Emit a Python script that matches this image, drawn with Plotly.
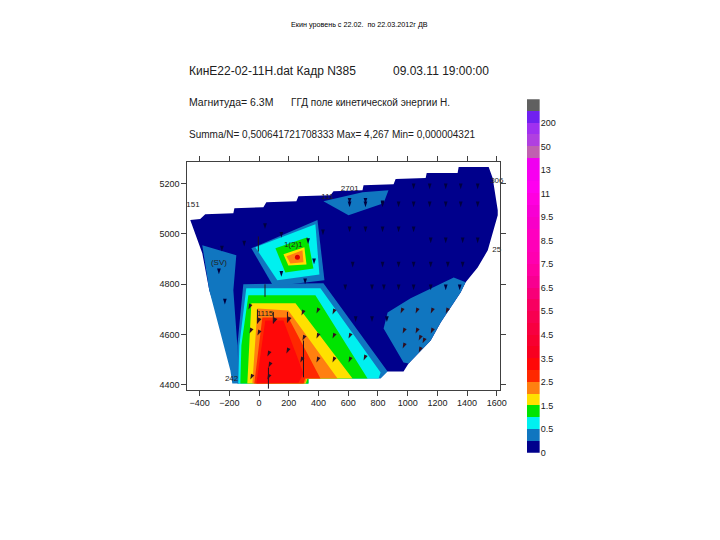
import plotly.graph_objects as go

FONT = "Liberation Sans, Arial"

# colour bar
band_colors = ["#00008c", "#1076c0", "#00f0f0", "#00e400", "#ffe000", "#ff8010", "#ff2800", "#ff0808",
               "#f80020", "#f80030", "#f80040", "#f80050", "#f80060", "#f80078", "#f80090", "#ff00a0",
               "#ff00b0", "#ff00b8", "#ff00c0", "#f800c8", "#f800d4", "#ff00e0", "#ff00f0", "#f800f0",
               "#f000f0", "#c060b0", "#b040e0", "#a030f0", "#7020f0", "#606060"]
band_tick_positions = [0, 2, 4, 6, 8, 10, 12, 14, 16, 18, 20, 22, 24, 26, 28]
band_tick_labels = ["0", "0.5", "1.5", "2.5", "3.5", "4.5", "5.5", "6.5", "7.5", "8.5", "9.5", "11", "13", "50", "200"]

# axes
x_ticks = [-400, -200, 0, 200, 400, 600, 800, 1000, 1200, 1400, 1600]
y_ticks = [4400, 4600, 4800, 5000, 5200]

# contour regions, outer to inner (x, y in model coordinates)
navy_x = [-463, -396, -362, -173, -166, 29, 49, 251, 265, 481, 501, 696, 703, 905, 919, 1121, 1128, 1336, 1343, 1545,
          1572, 1606, 1606, 1539, 1471, 1390, 1357, 1222, 1155, 1006, 972, 838, -160, -247, -335, -382]
navy_y = [5055, 5059, 5078, 5082, 5102, 5106, 5126, 5130, 5150, 5154, 5170, 5174, 5194, 5198, 5218, 5222, 5242, 5242, 5266, 5266,
          5222, 5094, 5074, 4935, 4867, 4808, 4768, 4648, 4576, 4485, 4453, 4453, 4453, 4616, 4776, 4923]
left_blue_x = [-382, -153, -173, -146, -133, -180, -193, -335]
left_blue_y = [4955, 4915, 4776, 4557, 4405, 4405, 4457, 4776]
top_blue_x = [433, 696, 871, 838, 602]
top_blue_y = [5130, 5166, 5174, 5122, 5074]
right_blue_x = [1310, 1390, 1357, 1222, 1155, 1006, 972, 838, 865, 1020]
right_blue_y = [4827, 4808, 4768, 4648, 4576, 4485, 4489, 4624, 4688, 4744]

low_blue_x = [-106, 433, 865, 818, 332, 332, -146, -146]
low_blue_y = [4800, 4804, 4453, 4425, 4425, 4405, 4405, 4557]
low_cyan_x = [-86, 413, 818, 804, 332, 332, -140, -133]
low_cyan_y = [4784, 4784, 4449, 4425, 4425, 4405, 4405, 4557]
low_green_x = [-72, 379, 730, 332, 332, -126, -119]
low_green_y = [4756, 4756, 4425, 4425, 4405, 4405, 4557]
low_yellow_x = [-52, 245, 629, 325, 315, -79]
low_yellow_y = [4724, 4724, 4425, 4425, 4405, 4405]
low_orange_x = [-11, 197, 528, 320, 310, -45]
low_orange_y = [4704, 4696, 4425, 4425, 4405, 4405]
low_redorange_x = [22, 197, 413, 310, 300, -32]
low_redorange_y = [4668, 4668, 4425, 4425, 4405, 4405]
low_red_x = [42, 164, 299, 265, -18]
low_red_y = [4656, 4656, 4445, 4408, 4405]

isl_blue_x = [-52, 393, 440, 96]
isl_blue_y = [4943, 5055, 4816, 4792]
isl_cyan_x = [-25, 379, 406, 123]
isl_cyan_y = [4947, 5039, 4839, 4816]
isl_green_x = [110, 326, 366, 177]
isl_green_y = [4943, 4987, 4863, 4847]
isl_yellow_x = [164, 305, 319, 197]
isl_yellow_y = [4919, 4947, 4879, 4875]
isl_orange_x = [184, 292, 299, 211]
isl_orange_y = [4911, 4935, 4887, 4883]

regions = [
    (navy_x, navy_y, "#00008c"), (left_blue_x, left_blue_y, "#1076c0"), (top_blue_x, top_blue_y, "#1076c0"),
    (right_blue_x, right_blue_y, "#1076c0"),
    (low_blue_x, low_blue_y, "#1076c0"), (low_cyan_x, low_cyan_y, "#00f0f0"), (low_green_x, low_green_y, "#00e400"),
    (low_yellow_x, low_yellow_y, "#ffe000"), (low_orange_x, low_orange_y, "#ff8010"),
    (low_redorange_x, low_redorange_y, "#ff2800"), (low_red_x, low_red_y, "#ff0808"),
    (isl_blue_x, isl_blue_y, "#1076c0"), (isl_cyan_x, isl_cyan_y, "#00f0f0"), (isl_green_x, isl_green_y, "#00e400"),
    (isl_yellow_x, isl_yellow_y, "#ffe000"), (isl_orange_x, isl_orange_y, "#ff8010"),
]

# velocity arrows
arrow_x = [609, 716, 831, 1040, 1148, 1256, 1357, 1471,
           609, 716, 831, 939, 1040, 1148, 1256, 1357, 1471,
           609, 716, 831, 939, 1040, 1155, 1256, 1370, 1471,
           630, 831, 939, 1040, 1155, 1270, 1370,
           580, 760, 840, 939, 1040, 1155, 1256, 1350,
           -250, -270, -230, -100, 40, 150, 330, 370, 430, 150, 310,
           650, 760, 860]
arrow_y = [5120, 5120, 5110, 5178, 5178, 5178, 5178, 5178,
           5106, 5106, 5106, 5106, 5106, 5106, 5106, 5106, 5106,
           5007, 5007, 5007, 5007, 5007, 4963, 4963, 4963, 4963,
           4867, 4867, 4867, 4867, 4867, 4867, 4867,
           4776, 4776, 4776, 4776, 4776, 4776, 4776, 4776,
           4930, 4840, 4720, 4950, 5020, 4985, 4960, 4880, 4995, 4830, 4800,
           4650, 4650, 4650]
arrow_rainbow_x = [-72, -65, -59, -11, -11, 56, 63, 56, 96, 191, 184, 292, 285, 278, 386, 386, 386, 494, 494, 494, 602, 602, 703,
                   966, 952, 1053, 1155, 1256, 1053, 1155, 966, 1074, 1100, 1074]
arrow_rainbow_y = [4700, 4604, 4421, 4644, 4596, 4513, 4469, 4421, 4644, 4648, 4525, 4576, 4676, 4489, 4684, 4584, 4489, 4680, 4584, 4489, 4584, 4489, 4497,
                   4604, 4684, 4684, 4684, 4684, 4604, 4604, 4545, 4576, 4565, 4529]
shaft_x = [-11, -11, None, 96, 96, None, 191, 191, None, 299, 299, None, 63, 63, None, 40, 40, None, -5, -5]
shaft_y = [4700, 4644, None, 4690, 4644, None, 4690, 4648, None, 4576, 4430, None, 4469, 4385, None, 4800, 4750, None, 4990, 4930]

# small station labels
label_x = [1550, 1600, 1640, 1600, 610, 230, 40, -445, -270, 460, -185]
label_y = [5300, 5210, 5105, 4935, 5180, 4955, 4680, 5115, 4885, 5145, 4425]
label_text = ["1309", "306", "203", "25", "2701", "1(2)1", "1115", "151", "(SV)", "111", "242"]

W, H, PAGE_MARGIN, FIT = 704, 524, 8, 0.989


def fx(px):
    return (px / FIT - PAGE_MARGIN) / W


def fy(py):
    return 1 - (py / FIT - PAGE_MARGIN) / H


fig = go.Figure()
for xs, ys, colour in regions:
    fig.add_trace(go.Scatter(x=xs, y=ys, mode="lines", fill="toself", fillcolor=colour,
                             line=dict(width=0, color=colour), hoverinfo="skip", showlegend=False))
fig.add_trace(go.Scatter(x=shaft_x, y=shaft_y, mode="lines", line=dict(color="#201020", width=1), showlegend=False))
fig.add_trace(go.Scatter(x=arrow_x, y=arrow_y, mode="markers", showlegend=False,
                         marker=dict(symbol="arrow", size=6, angle=180, color="#000040", line=dict(width=0))))
fig.add_trace(go.Scatter(x=arrow_rainbow_x, y=arrow_rainbow_y, mode="markers", showlegend=False,
                         marker=dict(symbol="arrow", size=6, angle=205, color="#301020", line=dict(width=0))))
fig.add_trace(go.Scatter(x=[258], y=[4907], mode="markers", showlegend=False,
                         marker=dict(symbol="circle", size=5, color="#e00000")))
fig.add_trace(go.Scatter(x=label_x, y=label_y, mode="text", text=label_text, showlegend=False, cliponaxis=False,
                         textfont=dict(family=FONT, size=8, color="#202020")))

fig.add_trace(go.Bar(x=["c"] * len(band_colors), y=[1] * len(band_colors), marker=dict(color=band_colors, line=dict(width=0)),
                     xaxis="x2", yaxis="y2", showlegend=False))

line_c = "#404040"
texts = [
    ("Екин уровень с 22.02.  по 22.03.2012г ДВ", 289, 24, 7.2, "#000000"),
    ("КинЕ22-02-11Н.dat Кадр N385", 187, 71, 12, "#202020"),
    ("09.03.11 19:00:00", 391, 71, 12, "#202020"),
    ("Магнитуда= 6.3М", 187, 102, 10.5, "#202020"),
    ("ГГД поле кинетической энергии Н.", 289, 102, 10, "#202020"),
    ("Summa/N= 0,500641721708333 Max= 4,267 Min= 0,000004321", 187, 134, 10, "#202020"),
]
annotations = [dict(text=t, x=fx(px), y=fy(py), xref="paper", yref="paper", xanchor="left", yanchor="middle",
                    showarrow=False, font=dict(family=FONT, size=s, color=c))
               for t, px, py, s, c in texts]

fig.update_layout(
    width=W, height=H, margin=dict(l=0, r=0, t=0, b=0), autosize=False,
    paper_bgcolor="white", plot_bgcolor="white", barmode="stack", bargap=0, showlegend=False,
    font=dict(family=FONT, size=9, color="#202020"),
    annotations=annotations,
    xaxis=dict(domain=[fx(187), fx(499.5)], range=[-483, 1622], tickvals=x_ticks, ticks="outside", ticklen=5,
               showgrid=False, zeroline=False, showline=True, linecolor=line_c, tickcolor=line_c, mirror="ticks"),
    yaxis=dict(domain=[fy(389), fy(161.7)], range=[4381, 5286], tickvals=y_ticks, ticks="outside", ticklen=5,
               showgrid=False, zeroline=False, showline=True, linecolor=line_c, tickcolor=line_c, mirror="ticks"),
    xaxis2=dict(domain=[fx(526), fx(539)], anchor="y2", showticklabels=False, ticks="", showgrid=False,
                zeroline=False, showline=False),
    yaxis2=dict(domain=[fy(452), fy(99)], anchor="x2", side="right", range=[0, 30], tickvals=band_tick_positions,
                ticktext=band_tick_labels, ticks="", showgrid=False, zeroline=False, showline=False),
)
fig.write_html("out.html", config={"displayModeBar": False})
